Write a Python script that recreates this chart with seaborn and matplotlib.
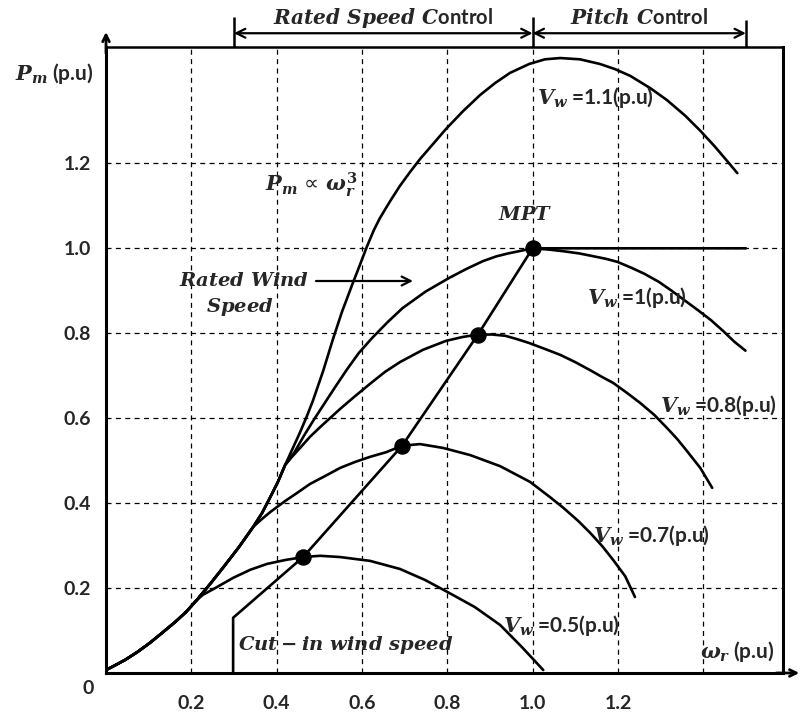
import matplotlib
matplotlib.use("Agg")
import numpy as np
import pandas as pd
import matplotlib.pyplot as plt
import seaborn as sns

# ---------------- data ----------------
# shared low-speed envelope of the power curves
env_w = [0.0, 0.021, 0.045, 0.073, 0.103, 0.131, 0.162, 0.188, 0.213, 0.246, 0.279, 0.312,
         0.345, 0.366, 0.385, 0.403, 0.420]
env_p = [0.007, 0.018, 0.031, 0.049, 0.071, 0.094, 0.120, 0.144, 0.172, 0.212, 0.254, 0.297,
         0.344, 0.377, 0.414, 0.450, 0.490]

# branches of the individual wind-speed curves
w_05 = [0.227, 0.256, 0.298, 0.338, 0.378, 0.420, 0.462, 0.502, 0.549, 0.619, 0.689, 0.748,
        0.800, 0.865, 0.924, 0.975, 1.025]
p_05 = [0.184, 0.200, 0.224, 0.243, 0.257, 0.266, 0.273, 0.276, 0.273, 0.264, 0.245, 0.219,
        0.191, 0.155, 0.113, 0.061, 0.007]

w_07 = [0.366, 0.385, 0.420, 0.448, 0.478, 0.514, 0.549, 0.584, 0.619, 0.657, 0.694, 0.736,
        0.790, 0.854, 0.924, 0.994, 1.041, 1.072, 1.107, 1.135, 1.163, 1.189, 1.217, 1.240]
p_07 = [0.363, 0.379, 0.405, 0.424, 0.445, 0.464, 0.483, 0.497, 0.509, 0.520, 0.535, 0.539,
        0.530, 0.513, 0.487, 0.450, 0.414, 0.389, 0.358, 0.330, 0.299, 0.266, 0.228, 0.179]

w_08 = [0.436, 0.455, 0.478, 0.502, 0.525, 0.549, 0.584, 0.619, 0.654, 0.689, 0.743, 0.797,
        0.835, 0.872, 0.905, 0.936, 0.964, 0.992, 1.029, 1.065, 1.100, 1.135, 1.163, 1.189,
        1.222, 1.252, 1.285, 1.315, 1.339, 1.360, 1.393, 1.421]
p_08 = [0.509, 0.530, 0.556, 0.579, 0.600, 0.622, 0.652, 0.681, 0.709, 0.732, 0.761, 0.782,
        0.791, 0.797, 0.797, 0.794, 0.786, 0.777, 0.763, 0.749, 0.732, 0.713, 0.697, 0.683,
        0.659, 0.636, 0.608, 0.577, 0.551, 0.525, 0.483, 0.436]

w_10 = [0.442, 0.463, 0.487, 0.511, 0.537, 0.565, 0.593, 0.624, 0.660, 0.695, 0.749, 0.804,
        0.844, 0.884, 0.915, 0.943, 0.972, 1.0, 1.038, 1.073, 1.109, 1.144, 1.173, 1.199,
        1.232, 1.262, 1.296, 1.326, 1.357, 1.388, 1.418, 1.447, 1.473, 1.499]
p_10 = [0.520, 0.557, 0.596, 0.633, 0.673, 0.715, 0.754, 0.789, 0.826, 0.859, 0.898, 0.930,
        0.951, 0.970, 0.981, 0.988, 0.994, 1.0, 0.997, 0.993, 0.988, 0.981, 0.975, 0.968,
        0.954, 0.940, 0.921, 0.900, 0.877, 0.854, 0.831, 0.805, 0.780, 0.759]

w_11 = [0.455, 0.471, 0.485, 0.509, 0.532, 0.553, 0.577, 0.596, 0.612, 0.628, 0.642, 0.666,
        0.689, 0.713, 0.736, 0.767, 0.797, 0.837, 0.877, 0.912, 0.947, 0.992, 1.029, 1.065,
        1.111, 1.158, 1.193, 1.229, 1.276, 1.315, 1.358, 1.393, 1.426, 1.454, 1.480]
p_11 = [0.567, 0.605, 0.641, 0.711, 0.786, 0.850, 0.914, 0.963, 1.005, 1.043, 1.071, 1.111,
        1.147, 1.180, 1.210, 1.246, 1.281, 1.323, 1.361, 1.389, 1.413, 1.434, 1.445, 1.448,
        1.445, 1.434, 1.422, 1.406, 1.377, 1.349, 1.312, 1.277, 1.241, 1.208, 1.177]

# maximum power tracking path (cut-in -> MPT -> pitch region)
mpt_w = [0.298, 0.298, 0.462, 0.694, 0.872, 1.0, 1.5]
mpt_p = [0.0, 0.130, 0.273, 0.535, 0.797, 1.0, 1.0]
dot_w = [0.462, 0.694, 0.872, 1.0]
dot_p = [0.273, 0.535, 0.797, 1.0]

x_ticks = [0.2, 0.4, 0.6, 0.8, 1.0, 1.2, 1.4]
x_tick_labels = ["0.2", "0.4", "0.6", "0.8", "1.0", "1.2", ""]
y_ticks = [0.2, 0.4, 0.6, 0.8, 1.0, 1.2]
y_tick_labels = ["0.2", "0.4", "0.6", "0.8", "1.0", "1.2"]

region_edges = [0.3, 1.0, 1.5]
region_names = [r"$Rated\ Speed\ C$ontrol", r"$Pitch\ C$ontrol"]

# ---------------- build long table ----------------
curves = {
    "0.5": (env_w[:9] + w_05, env_p[:9] + p_05),
    "0.7": (env_w[:13] + w_07, env_p[:13] + p_07),
    "0.8": (env_w + w_08, env_p + p_08),
    "1.0": (env_w + w_10, env_p + p_10),
    "1.1": (env_w + w_11, env_p + p_11),
}
rows = []
for name, (ws, ps) in curves.items():
    for i, (w, p) in enumerate(zip(ws, ps)):
        rows.append({"curve": name, "order": i, "omega": w, "power": p})
df = pd.DataFrame(rows)

# ---------------- style ----------------
sns.set_theme(style="white")
plt.rcParams["font.family"] = ["Lato", "DejaVu Sans"]
plt.rcParams["mathtext.fontset"] = "custom"
plt.rcParams["mathtext.it"] = "DejaVu Serif:italic:bold"
plt.rcParams["mathtext.rm"] = "DejaVu Serif:bold"
plt.rcParams["mathtext.bf"] = "DejaVu Serif:bold"

fig = plt.figure(figsize=(8.0, 7.15), dpi=100)
ax = fig.add_axes([106 / 800, 42 / 715, 677 / 800, 626 / 715])

sns.lineplot(data=df, x="omega", y="power", units="curve", estimator=None, sort=False,
             color="black", lw=1.9, ax=ax, legend=False)
sns.lineplot(x=mpt_w, y=mpt_p, estimator=None, sort=False, color="black", lw=1.9, ax=ax)
sns.scatterplot(x=dot_w, y=dot_p, s=120, color="black", edgecolor="black", zorder=6, ax=ax)

ax.set_xlim(0, 1.587)
ax.set_ylim(0, 1.474)
ax.set_xticks(x_ticks)
ax.set_xticklabels(x_tick_labels)
ax.set_yticks(y_ticks)
ax.set_yticklabels(y_tick_labels)
ax.set_xlabel("")
ax.set_ylabel("")
ax.tick_params(axis="both", length=0, labelsize=14)
ax.tick_params(axis="x", pad=16)
ax.tick_params(axis="y", pad=11)
for lab in ax.get_xticklabels() + ax.get_yticklabels():
    lab.set_fontweight("bold")
ax.grid(True, color="black", lw=0.9, ls=(0, (4, 3.5)))
ax.set_axisbelow(True)
for s in ax.spines.values():
    s.set_visible(True)
    s.set_color("black")
    s.set_linewidth(2.2)
ax.spines["top"].set_linewidth(1.8)

# axis arrows
ax.annotate("", xy=(0, 1.024), xytext=(0, 0.99), xycoords="axes fraction",
            arrowprops=dict(arrowstyle="->", lw=2.0, color="black", shrinkA=0, shrinkB=0),
            annotation_clip=False)
ax.annotate("", xy=(1.024, 0), xytext=(0.99, 0), xycoords="axes fraction",
            arrowprops=dict(arrowstyle="->", lw=2.0, color="black", shrinkA=0, shrinkB=0),
            annotation_clip=False)

# top control regions
xt = ax.get_xaxis_transform()
ax.vlines(region_edges, 1.0, [1.048, 1.048, 1.043], transform=xt, clip_on=False,
          colors="black", lw=1.8)
for a, b, name in zip(region_edges[:-1], region_edges[1:], region_names):
    ax.annotate("", xy=(a, 1.022), xytext=(b, 1.022), xycoords=xt,
                arrowprops=dict(arrowstyle="<->", lw=1.6, color="black",
                                shrinkA=0, shrinkB=0, mutation_scale=16),
                annotation_clip=False)
    ax.text((a + b) / 2, 1.046, name, transform=xt, ha="center", va="center",
            fontsize=14.5, fontweight="bold")


def fx(x):
    return x / 800


def fy(y):
    return 1 - y / 715


fs = 15
fig.text(fx(15), fy(73), r"$P_m$ (p.u)", ha="left", va="center", fontsize=fs, fontweight="bold")
fig.text(fx(265), fy(185), r"$P_m$ ∝ $\omega_r^3$", ha="left", va="center", fontsize=fs,
         family=["DejaVu Sans"])
fig.text(fx(525), fy(214), r"$MPT$", ha="center", va="center", fontsize=14)
fig.text(fx(244), fy(280), r"$Rated\ Wind$", ha="center", va="center", fontsize=14)
fig.text(fx(240), fy(307), r"$Speed$", ha="center", va="center", fontsize=14)
ax.annotate("", xy=(fx(413), fy(281)), xytext=(fx(316), fy(281)), xycoords="figure fraction",
            arrowprops=dict(arrowstyle="->", lw=1.6, color="black", shrinkA=0, shrinkB=0,
                            mutation_scale=16))
fig.text(fx(537), fy(97), r"$V_w$ =1.1(p.u)", ha="left", va="center", fontsize=fs, fontweight="bold")
fig.text(fx(587), fy(297), r"$V_w$ =1(p.u)", ha="left", va="center", fontsize=fs, fontweight="bold")
fig.text(fx(660), fy(405), r"$V_w$ =0.8(p.u)", ha="left", va="center", fontsize=fs, fontweight="bold")
fig.text(fx(593), fy(535), r"$V_w$ =0.7(p.u)", ha="left", va="center", fontsize=fs, fontweight="bold")
fig.text(fx(503), fy(625), r"$V_w$ =0.5(p.u)", ha="left", va="center", fontsize=fs, fontweight="bold")
fig.text(fx(238), fy(645), r"$Cut - in\ wind\ speed$", ha="left", va="center", fontsize=14)
fig.text(fx(700), fy(652), r"$\omega_r$ (p.u)", ha="left", va="center", fontsize=fs, fontweight="bold")
fig.text(fx(88), fy(688), "0", ha="center", va="center", fontsize=14, fontweight="bold")

fig.savefig("out.png", dpi=100)
